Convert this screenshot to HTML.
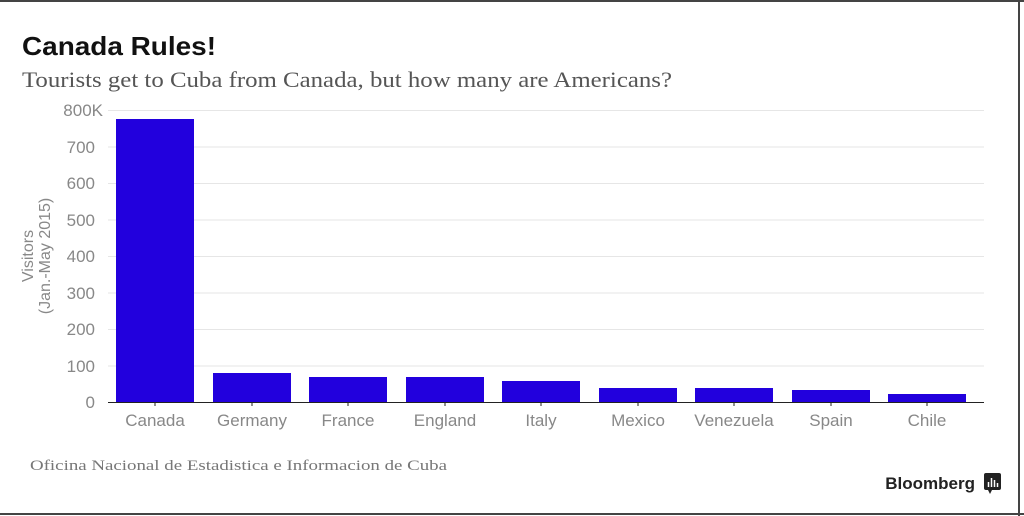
<!DOCTYPE html>
<html><head><meta charset="utf-8"><style>
body{margin:0;background:#fff;}
.w{position:relative;width:1024px;height:516px;overflow:hidden;font-family:"Liberation Sans",sans-serif;}
</style></head><body><div class="w">
<svg width="1024" height="516" style="position:absolute;left:0;top:0">
<rect x="0" y="0" width="1024" height="516" fill="#fff"/>
<line x1="0" y1="1" x2="1024" y2="1" stroke="#444" stroke-width="2"/>
<line x1="1019" y1="0" x2="1019" y2="516" stroke="#444" stroke-width="2"/>
<line x1="0" y1="514" x2="1024" y2="514" stroke="#444" stroke-width="2"/>
<text x="22" y="55" font-size="26" font-weight="bold" fill="#111" font-family="Liberation Sans" textLength="194" lengthAdjust="spacingAndGlyphs">Canada Rules!</text>
<text x="22" y="87" font-size="22" fill="#555" font-family="Liberation Serif" textLength="650" lengthAdjust="spacingAndGlyphs">Tourists get to Cuba from Canada, but how many are Americans?</text>
<g stroke="#e6e6e6" stroke-width="1">
<line x1="108" x2="984" y1="110.5" y2="110.5"/><line x1="108" x2="984" y1="147" y2="147"/>
<line x1="108" x2="984" y1="183.5" y2="183.5"/><line x1="108" x2="984" y1="220" y2="220"/>
<line x1="108" x2="984" y1="256.5" y2="256.5"/><line x1="108" x2="984" y1="293" y2="293"/>
<line x1="108" x2="984" y1="329.5" y2="329.5"/><line x1="108" x2="984" y1="366" y2="366"/>
</g>
<g font-size="17" fill="#888" text-anchor="end" font-family="Liberation Sans">
<text x="103" y="116">800K</text><text x="95" y="153">700</text><text x="95" y="189">600</text>
<text x="95" y="226">500</text><text x="95" y="262">400</text><text x="95" y="299">300</text>
<text x="95" y="335">200</text><text x="95" y="372">100</text><text x="95" y="408">0</text>
</g>
<text transform="translate(33,256) rotate(-90)" font-size="16" fill="#888" text-anchor="middle">Visitors</text>
<text transform="translate(50,256) rotate(-90)" font-size="16" fill="#888" text-anchor="middle">(Jan.-May 2015)</text>
<g fill="#2200dd">
<rect x="116" y="119" width="78" height="283"/>
<rect x="213" y="373" width="78" height="29"/>
<rect x="309" y="377" width="78" height="25"/>
<rect x="406" y="377" width="78" height="25"/>
<rect x="502" y="381" width="78" height="21"/>
<rect x="599" y="388" width="78" height="14"/>
<rect x="695" y="388" width="78" height="14"/>
<rect x="792" y="390" width="78" height="12"/>
<rect x="888" y="394" width="78" height="8"/>
</g>
<line x1="108" x2="984" y1="402.5" y2="402.5" stroke="#222" stroke-width="1"/>
<g stroke="#222"><line x1="155" x2="155" y1="402" y2="406"/><line x1="252" x2="252" y1="402" y2="406"/><line x1="348" x2="348" y1="402" y2="406"/><line x1="445" x2="445" y1="402" y2="406"/><line x1="541" x2="541" y1="402" y2="406"/><line x1="638" x2="638" y1="402" y2="406"/><line x1="734" x2="734" y1="402" y2="406"/><line x1="831" x2="831" y1="402" y2="406"/><line x1="927" x2="927" y1="402" y2="406"/></g>
<g font-size="17" fill="#888" text-anchor="middle">
<text x="155" y="426">Canada</text><text x="252" y="426">Germany</text><text x="348" y="426">France</text>
<text x="445" y="426">England</text><text x="541" y="426">Italy</text><text x="638" y="426">Mexico</text>
<text x="734" y="426">Venezuela</text><text x="831" y="426">Spain</text><text x="927" y="426">Chile</text>
</g>
<text x="30" y="470" font-size="15" fill="#777" font-family="Liberation Serif" textLength="417" lengthAdjust="spacingAndGlyphs">Oficina Nacional de Estadistica e Informacion de Cuba</text>
<text x="975" y="489" font-size="17" font-weight="bold" fill="#222" text-anchor="end">Bloomberg</text>
<rect x="984" y="473" width="17" height="17" rx="2" fill="#222"/>
<polygon points="988,490 992,490 990,494" fill="#222"/>
<g stroke="#fff" stroke-width="1.5"><line x1="988.5" y1="487" x2="988.5" y2="482"/><line x1="991.5" y1="487" x2="991.5" y2="478"/><line x1="994.5" y1="487" x2="994.5" y2="480"/><line x1="997.5" y1="487" x2="997.5" y2="483"/></g>
</svg>
</div></body></html>
